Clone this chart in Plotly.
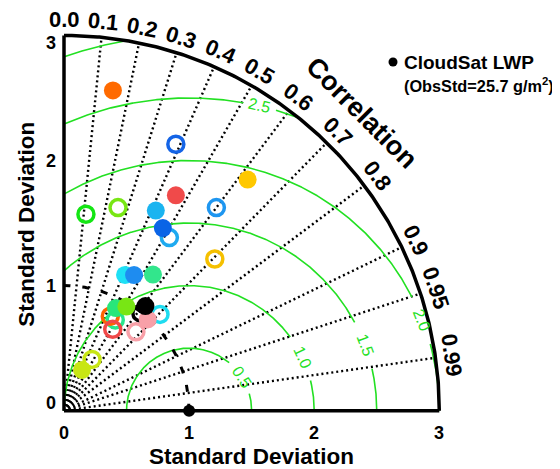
import numpy as np
import plotly.graph_objects as go

# correlation rays and their labels
corr_ticks = [0.0, 0.1, 0.2, 0.3, 0.4, 0.5, 0.6, 0.7, 0.8, 0.9, 0.95, 0.99]
corr_labels = ["0.0", "0.1", "0.2", "0.3", "0.4", "0.5", "0.6", "0.7", "0.8", "0.9", "0.95", "0.99"]

# centred RMS difference contours (label gap start / end, degrees around the obs point)
rms_levels = [0.5, 1.0, 1.5, 2.0, 2.5, 3.0]
rms_labels = ["0.5", "1.0", "1.5", "2.0", "2.5", ""]
rms_gap_lo = [16, 14, 13, 15.5, 74, None]
rms_gap_hi = [50, 36, 28, 27, 80, None]

std_ticks = [0, 1, 2, 3]

# normalised std / correlation, filled markers
filled_std = [2.59, 1.94, 2.36, 1.76, 1.66, 1.19, 1.22, 1.30, 0.92, 0.97, 0.99, 1.06, 0.356]
filled_corr = [0.151, 0.461, 0.622, 0.417, 0.476, 0.410, 0.459, 0.547, 0.452, 0.514, 0.676, 0.614, 0.404]
filled_color = ["#ff6a00", "#f04a4a", "#ffc800", "#1ab4f0", "#0a64e6", "#1ee0f5", "#1e8cf0",
                "#32e68c", "#28e67a", "#78e614", "#f8a0a8", "#000000", "#c8e614"]

# open markers
open_std = [2.31, 2.03, 1.62, 1.58, 1.68, 1.71, 0.833, 0.841, 0.758, 0.993, 0.853, 1.087, 0.467]
open_corr = [0.387, 0.600, 0.520, 0.111, 0.257, 0.705, 0.492, 0.440, 0.514, 0.619, 0.674, 0.706, 0.480]
open_color = ["#1464e6", "#1e96f0", "#1eaaf0", "#14e614", "#78e614", "#f5c000", "#28e68c",
              "#ff6400", "#f04848", "#000000", "#f8a0a8", "#1edcf0", "#c8e614"]

FONT = "Liberation Sans, Arial, Helvetica, sans-serif"
GREEN = "#22e022"
RMAX = 3.0

# page has an 8px body margin, so the figure is sized/placed to compensate
PX = 125.1
OX, OY = 64, 410.7

fig = go.Figure()

# dotted correlation rays
for c in corr_ticks[1:]:
    a = np.arccos(c)
    fig.add_trace(go.Scatter(x=[0, RMAX * np.cos(a)], y=[0, RMAX * np.sin(a)], mode="lines",
                             line=dict(color="black", width=2.4, dash="2px,3px"), hoverinfo="skip"))

# green RMS contours, clipped to the quadrant and broken at the labels
for lev, lo, hi in zip(rms_levels, rms_gap_lo, rms_gap_hi):
    th = np.linspace(0, 180, 1200)
    xs = 1 + lev * np.cos(np.radians(th))
    ys = lev * np.sin(np.radians(th))
    keep = (xs >= 0) & (xs ** 2 + ys ** 2 <= RMAX ** 2 + 1e-9)
    if lo is not None:
        keep &= ~((th > lo) & (th < hi))
    xs = np.where(keep, xs, np.nan)
    ys = np.where(keep, ys, np.nan)
    fig.add_trace(go.Scatter(x=xs, y=ys, mode="lines", connectgaps=False,
                             line=dict(color=GREEN, width=1.6), hoverinfo="skip"))

for lev, lab, lo, hi in zip(rms_levels, rms_labels, rms_gap_lo, rms_gap_hi):
    if not lab:
        continue
    mid = np.radians((lo + hi) / 2)
    fig.add_annotation(x=1 + lev * np.cos(mid), y=lev * np.sin(mid), text=lab, showarrow=False,
                       textangle=90 - np.degrees(mid), font=dict(family=FONT, size=16, color=GREEN))

# reference std arc (dashed)
t = np.linspace(0, np.pi / 2, 300)
fig.add_trace(go.Scatter(x=np.cos(t), y=np.sin(t), mode="lines",
                         line=dict(color="black", width=3, dash="7px,12px"), hoverinfo="skip"))

# frame: axes and outer arc
fig.add_trace(go.Scatter(x=[0, RMAX], y=[0, 0], mode="lines", line=dict(color="black", width=3.5)))
fig.add_trace(go.Scatter(x=[0, 0], y=[0, RMAX], mode="lines", line=dict(color="black", width=3.5)))
fig.add_trace(go.Scatter(x=RMAX * np.cos(t), y=RMAX * np.sin(t), mode="lines",
                         line=dict(color="black", width=3.5)))

# models
oc = np.array(open_corr)
os_ = np.array(open_std)
fig.add_trace(go.Scatter(x=os_ * oc, y=os_ * np.sqrt(1 - oc ** 2), mode="markers",
                         marker=dict(symbol="circle-open", size=16, color=open_color,
                                     line=dict(width=3.5, color=open_color))))
fc = np.array(filled_corr)
fs = np.array(filled_std)
fig.add_trace(go.Scatter(x=fs * fc, y=fs * np.sqrt(1 - fc ** 2), mode="markers",
                         marker=dict(symbol="circle", size=18, color=filled_color, line=dict(width=0))))

# observation point
fig.add_trace(go.Scatter(x=[1], y=[0], mode="markers", marker=dict(color="black", size=12)))

# correlation labels
for c, lab in zip(corr_ticks, corr_labels):
    a = np.arccos(c)
    fig.add_annotation(x=3.13 * np.cos(a), y=3.13 * np.sin(a), text=lab, showarrow=False,
                       textangle=90 - np.degrees(a), borderpad=0,
                       font=dict(family=FONT, size=22, color="black", weight="bold"))

fig.add_annotation(x=3.37 * np.cos(np.pi / 4), y=3.37 * np.sin(np.pi / 4), text="Correlation",
                   showarrow=False, textangle=45,
                   font=dict(family=FONT, size=27, color="black", weight="bold"))

# std tick labels
tick_font = dict(family=FONT, size=18, color="black", weight="bold")
for v in std_ticks:
    fig.add_annotation(x=v, y=-0.18, text=str(v), showarrow=False, font=tick_font)
y_lab_pos = [0.06, 1.0, 2.0, 2.94]
for v, yp in zip(std_ticks, y_lab_pos):
    fig.add_annotation(x=-0.10, y=yp, text=str(v), showarrow=False, font=tick_font)

title_font = dict(family=FONT, size=22.5, color="black", weight="bold")
fig.add_annotation(x=1.50, y=-0.37, text="Standard Deviation", showarrow=False, font=title_font,
                   borderpad=0)
fig.add_annotation(x=-0.30, y=1.49, text="Standard Deviation", showarrow=False, textangle=-90,
                   font=title_font)

# legend
fig.add_trace(go.Scatter(x=[2.63], y=[2.787], mode="markers", marker=dict(color="black", size=9)))
fig.add_annotation(x=2.70, y=2.787, text="CloudSat LWP", showarrow=False, xanchor="left",
                   font=dict(family=FONT, size=19, color="black", weight="bold"))
fig.add_annotation(x=2.70, y=2.60, text="(ObsStd=25.7 g/m<sup>2</sup>)", showarrow=False,
                   xanchor="left", font=dict(family=FONT, size=16.3, color="black", weight="bold"))

fig.update_layout(
    width=552, height=461,
    margin=dict(l=0, r=0, t=0, b=0),
    plot_bgcolor="white", paper_bgcolor="white",
    showlegend=False,
    xaxis=dict(range=[(8 - OX) / PX, (560 - OX) / PX], visible=False, fixedrange=True),
    yaxis=dict(range=[(OY - 469) / PX, (OY - 8) / PX], visible=False, fixedrange=True),
)

fig.write_html("out.html")
